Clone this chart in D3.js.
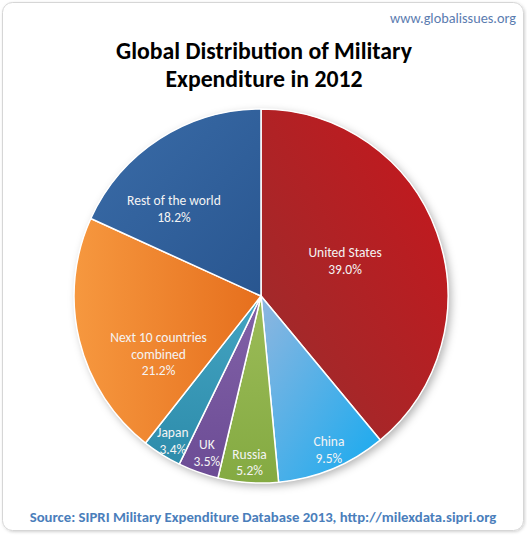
<!DOCTYPE html>
<html>
<head>
<meta charset="utf-8">
<script src="https://cdnjs.cloudflare.com/ajax/libs/d3/7.8.5/d3.min.js"></script>
<style>
  body { margin: 0; background: #fff; }
  svg { display: block; }
</style>
</head>
<body>
<div id="chart"></div>
<script>
// data
var countries = ["United States", "China", "Russia", "UK", "Japan", "Next 10 countries combined", "Rest of the world"];
var shares = [39.0, 9.5, 5.2, 3.5, 3.4, 21.2, 18.2];
var labelLines = [["United States"], ["China"], ["Russia"], ["UK"], ["Japan"], ["Next 10 countries", "combined"], ["Rest of the world"]];

// look: [light, dark] per slice, plus gradient direction
var sliceColors = [["#c8161c", "#982e2e"], ["#8fb6df", "#14aaf0"], ["#9cbc58", "#84aa42"], ["#8262a8", "#6c4c95"], ["#44a4c2", "#2d8cab"], ["#f6983f", "#e66f1d"], ["#3a6ca8", "#295690"]];
var gradDir = [[1, 0, 0, 1], [0, 0, 1, 1], [0, 0, 0, 1], [0, 0, 0, 1], [0, 0, 0, 1], [0, 0.5, 1, 0.5], [0, 0, 1, 1]];
// excel "best fit" label spots: radius fraction and angle shift (deg)
var labelRadius = [0.487, 0.90, 0.89, 0.888, 0.907, 0.63, 0.66];
var labelShift = [-2.8, -1.3, 0, -0.6, -0.7, -15.9, -12.1];

var W = 527, H = 535;
var cx = 261, cy = 296, R = 187;

var svg = d3.select("#chart")
	.append("svg")
	.attr("width", W)
	.attr("height", H);

var defs = svg.append("defs");

var frameShadow = defs.append("filter").attr("id", "frameShadow")
	.attr("x", "-5%").attr("y", "-5%").attr("width", "110%").attr("height", "110%");
frameShadow.append("feDropShadow").attr("dx", 1).attr("dy", 1).attr("stdDeviation", 1.5)
	.attr("flood-color", "#000").attr("flood-opacity", 0.18);

var pieShadow = defs.append("filter").attr("id", "pieShadow")
	.attr("x", "-20%").attr("y", "-20%").attr("width", "140%").attr("height", "140%");
pieShadow.append("feDropShadow").attr("dx", 3).attr("dy", 3).attr("stdDeviation", 4)
	.attr("flood-color", "#000").attr("flood-opacity", 0.3);

sliceColors.forEach(function(c, i){
	var g = defs.append("linearGradient")
		.attr("id", "grad" + i)
		.attr("x1", gradDir[i][0]).attr("y1", gradDir[i][1])
		.attr("x2", gradDir[i][2]).attr("y2", gradDir[i][3]);
	g.append("stop").attr("offset", "0%").attr("stop-color", c[0]);
	g.append("stop").attr("offset", "100%").attr("stop-color", c[1]);
});

// frame
svg.append("rect")
	.attr("x", 2.5).attr("y", 2.5)
	.attr("width", 521).attr("height", 528)
	.attr("rx", 10).attr("ry", 10)
	.attr("fill", "#fff")
	.attr("stroke", "#d6d6d6")
	.attr("stroke-width", 1)
	.attr("filter", "url(#frameShadow)");

var font = "Carlito, Calibri, Lato, 'Open Sans', sans-serif";

// scale a text so it is w wide
function fitText(sel, w){
	var size = parseFloat(sel.style("font-size"));
	var len = sel.node().getComputedTextLength();
	sel.style("font-size", (size * w / len) + "px");
	return sel;
}

svg.append("text")
	.attr("x", 516).attr("y", 23)
	.attr("text-anchor", "end")
	.style("font-family", font)
	.style("font-size", "14px")
	.attr("fill", "#5b7cb0")
	.text("www.globalissues.org")
	.call(fitText, 126);

var t1 = svg.append("text")
	.attr("x", 264).attr("y", 59)
	.attr("text-anchor", "middle")
	.style("font-family", font)
	.style("font-weight", "bold")
	.style("font-size", "23px")
	.attr("fill", "#000")
	.text("Global Distribution of Military")
	.call(fitText, 296);

svg.append("text")
	.attr("x", 264).attr("y", 87)
	.attr("text-anchor", "middle")
	.style("font-family", font)
	.style("font-weight", "bold")
	.style("font-size", t1.style("font-size"))
	.attr("fill", "#000")
	.text("Expenditure in 2012");

svg.append("text")
	.attr("x", 263).attr("y", 522)
	.attr("text-anchor", "middle")
	.style("font-family", font)
	.style("font-weight", "bold")
	.style("font-size", "14px")
	.attr("fill", "#4a7ebb")
	.text("Source: SIPRI Military Expenditure Database 2013, http://milexdata.sipri.org")
	.call(fitText, 467);

// pie
var pie = d3.pie().sort(null).value(function(d){ return d; });
var arcs = pie(shares);
var arc = d3.arc().innerRadius(0).outerRadius(R);

var g = svg.append("g").attr("transform", "translate(" + cx + "," + cy + ")");

g.append("circle")
	.attr("r", R)
	.attr("fill", "#fff")
	.attr("filter", "url(#pieShadow)");

g.selectAll("path.slice")
	.data(arcs)
	.enter()
	.append("path")
	.attr("class", "slice")
	.attr("d", arc)
	.attr("fill", function(d, i){ return "url(#grad" + i + ")"; })
	.attr("stroke", "#fff")
	.attr("stroke-width", 1.5)
	.attr("stroke-linejoin", "round");

// labels
var lineH = 16.5;
arcs.forEach(function(d, i){
	var a = (d.startAngle + d.endAngle) / 2 + labelShift[i] * Math.PI / 180;
	var r = labelRadius[i] * R;
	var lx = r * Math.sin(a);
	var ly = -r * Math.cos(a);
	var lines = labelLines[i].concat([d3.format(".1f")(shares[i]) + "%"]);
	var top = ly - (lines.length - 1) * lineH / 2;
	var txt = g.append("text")
		.attr("text-anchor", "middle")
		.style("font-family", font)
		.style("font-size", "13.5px")
		.attr("fill", "#f4f4f4");
	lines.forEach(function(s, k){
		txt.append("tspan")
			.attr("x", lx)
			.attr("y", top + k * lineH)
			.attr("dy", "0.35em")
			.text(s);
	});
});
</script>
</body>
</html>
